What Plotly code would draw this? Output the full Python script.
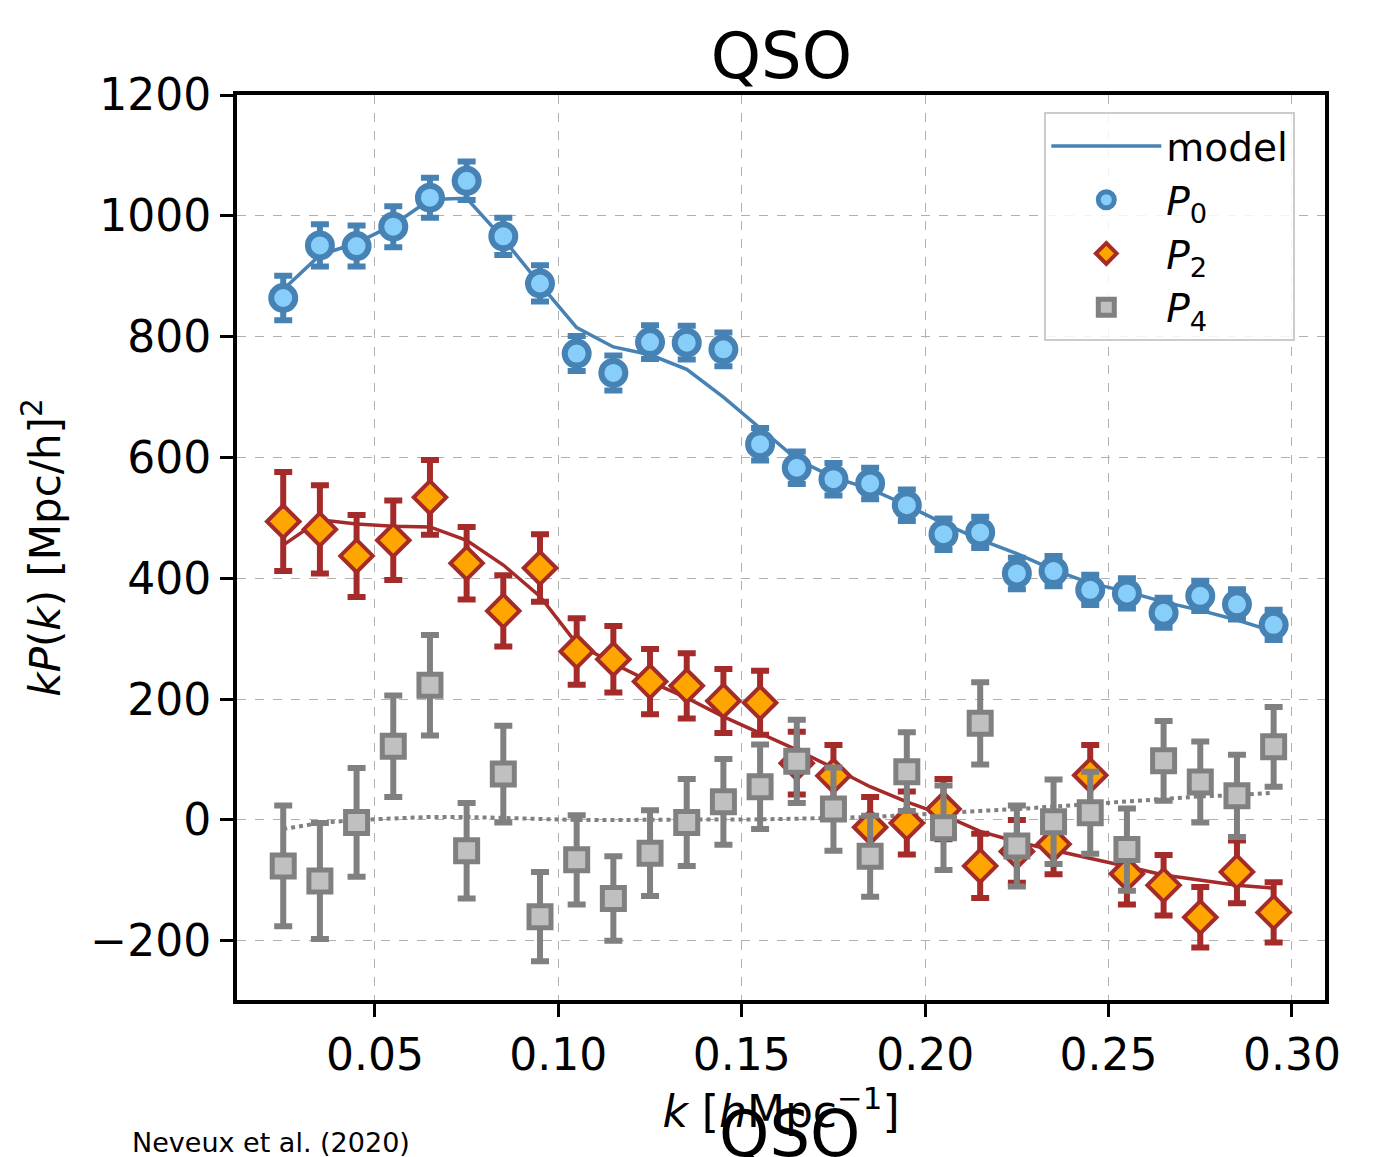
import plotly.graph_objects as go

k = [0.025, 0.035, 0.045, 0.055, 0.065, 0.075, 0.085, 0.095, 0.105, 0.115,
     0.125, 0.135, 0.145, 0.155, 0.165, 0.175, 0.185, 0.195, 0.205, 0.215,
     0.225, 0.235, 0.245, 0.255, 0.265, 0.275, 0.285, 0.295]

P0 = [864, 951, 950, 982, 1030, 1058, 966, 888, 772, 740,
      791, 790, 779, 622, 583, 564, 557, 521, 473, 476,
      408, 412, 381, 375, 343, 371, 357, 323]
P0_err = [37, 35, 34, 34, 33, 32, 31, 30, 29, 29,
          28, 28, 28, 27, 27, 27, 26, 26, 26, 26,
          26, 25, 25, 25, 25, 25, 25, 25]

P2 = [494, 481, 437, 463, 534, 425, 346, 417, 279, 266,
      229, 222, 197, 194, 94, 73, -12, -5, 18, -76,
      -52, -40, 74, -89, -108, -161, -86, -153]
P2_err = [82, 73, 68, 66, 62, 60, 59, 56, 55, 55,
          54, 54, 53, 53, 52, 51, 50, 52, 50, 53,
          52, 50, 50, 51, 50, 50, 52, 50]

P4 = [-76, -101, -4, 122, 223, -51, 76, -160, -66, -130,
      -55, -4, 30, 55, 97, 18, -60, 80, -13, 160,
      -43, -3, 12, -49, 98, 63, 40, 121]
P4_err = [100, 96, 90, 84, 83, 79, 80, 74, 74, 70,
          71, 72, 71, 70, 69, 69, 67, 65, 70, 68,
          67, 70, 68, 68, 66, 67, 68, 66]

model_P0 = [878, 935, 955, 985, 1027, 1029, 962, 887, 815, 783,
            770, 746, 700, 648, 597, 567, 548, 521, 491, 464,
            441, 414, 392, 378, 361, 347, 331, 312]
model_P2 = [455, 497, 490, 486, 485, 463, 422, 370, 292, 259,
            229, 202, 171, 144, 116, 86, 55, 30, 8, -19,
            -36, -50, -63, -77, -91, -99, -108, -113]
model_P4 = [-15, -5, 0, 2, 5, 5, 3, 1, 0, 0,
            0, 0, 0, 1, 2, 3, 5, 8, 12, 15,
            18, 22, 27, 31, 35, 39, 41, 45]

FONT = "DejaVu Sans"

fig = go.Figure()

fig.add_trace(go.Scatter(x=k, y=model_P0, mode="lines", name="model",
                         line=dict(color="#4682B4", width=3.5)))
fig.add_trace(go.Scatter(x=k, y=model_P2, mode="lines", showlegend=False,
                         line=dict(color="#A52A2A", width=3.5)))
fig.add_trace(go.Scatter(x=k, y=model_P4, mode="lines", showlegend=False,
                         line=dict(color="#808080", width=4, dash="dot")))

fig.add_trace(go.Scatter(
    x=k, y=P0, mode="markers", name="<i>P</i><sub>0</sub>",
    marker=dict(symbol="circle", size=24, color="#87CEFA",
                line=dict(color="#4682B4", width=6)),
    error_y=dict(type="data", array=P0_err, color="#4682B4", thickness=6, width=9)))
fig.add_trace(go.Scatter(
    x=k, y=P2, mode="markers", name="<i>P</i><sub>2</sub>",
    marker=dict(symbol="diamond", size=25, color="#FFA500",
                line=dict(color="#A52A2A", width=4)),
    error_y=dict(type="data", array=P2_err, color="#A52A2A", thickness=6, width=9)))
fig.add_trace(go.Scatter(
    x=k, y=P4, mode="markers", name="<i>P</i><sub>4</sub>",
    marker=dict(symbol="square", size=22, color="#C0C0C0",
                line=dict(color="#808080", width=5)),
    error_y=dict(type="data", array=P4_err, color="#808080", thickness=6, width=9)))

axis_common = dict(
    showline=True, linecolor="black", linewidth=4, mirror=True,
    ticks="outside", ticklen=13, tickwidth=3, tickcolor="black",
    showgrid=True, gridcolor="#b0b0b0", gridwidth=1, griddash="dash",
    zeroline=False, tickfont=dict(family=FONT, size=44, color="black"),
)

fig.update_layout(
    width=1389, height=1157,
    margin=dict(l=237, r=64, t=95, b=157),
    paper_bgcolor="white", plot_bgcolor="white",
    font=dict(family=FONT, color="black"),
    title=dict(text="QSO", x=0.5625, xanchor="center", y=0.952, yanchor="middle",
               yref="container", font=dict(family=FONT, size=64, color="black")),
    xaxis=dict(range=[0.0124, 0.309], tickvals=[0.05, 0.10, 0.15, 0.20, 0.25, 0.30],
               tickformat=".2f",
               title=dict(text="<i>k</i> [<i>h</i>Mpc<sup>−1</sup>]", standoff=6,
                          font=dict(family=FONT, size=44, color="black")),
               **axis_common),
    yaxis=dict(range=[-298, 1200], tickvals=[-200, 0, 200, 400, 600, 800, 1000, 1200],
               title=dict(text="<i>kP</i>(<i>k</i>) [Mpc/h]<sup>2</sup>", standoff=18,
                          font=dict(family=FONT, size=42, color="black")),
               **axis_common),
    legend=dict(x=0.742, y=0.981, xanchor="left", yanchor="top",
                bgcolor="rgba(255,255,255,0.85)", bordercolor="#cccccc", borderwidth=2,
                font=dict(family=FONT, size=39, color="black"),
                itemwidth=110, itemsizing="trace"),
    showlegend=True,
    annotations=[
        dict(text="QSO", xref="paper", yref="paper", x=0.508, y=-0.148,
             xanchor="center", yanchor="middle", showarrow=False,
             font=dict(family=FONT, size=64, color="black")),
        dict(text="Neveux et al. (2020)", xref="paper", yref="paper", x=-0.098, y=-0.157,
             xanchor="left", yanchor="middle", showarrow=False,
             font=dict(family=FONT, size=27, color="black")),
    ],
)

fig.write_html("out.html")
